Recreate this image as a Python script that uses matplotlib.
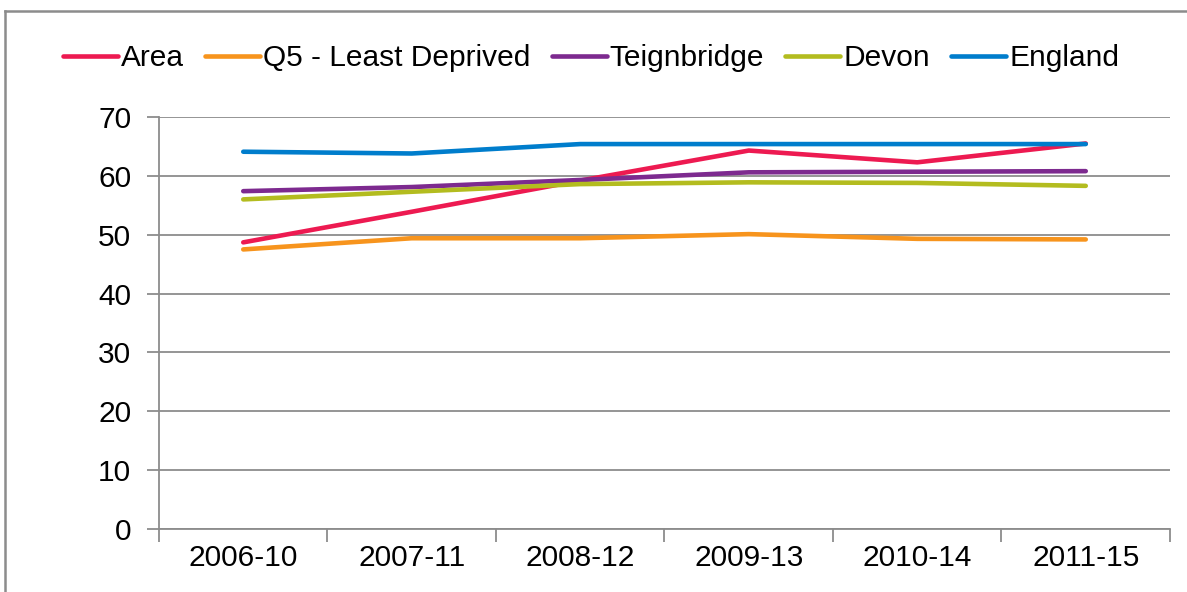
import matplotlib
matplotlib.use("Agg")
import matplotlib.pyplot as plt
from matplotlib.lines import Line2D

plt.rcParams['font.family'] = ['Liberation Sans', 'DejaVu Sans']

categories = ["2006-10", "2007-11", "2008-12", "2009-13", "2010-14", "2011-15"]
area = [48.7, 53.9, 59.2, 64.3, 62.3, 65.5]
q5 = [47.5, 49.4, 49.4, 50.1, 49.3, 49.2]
teignbridge = [57.4, 58.1, 59.3, 60.6, 60.7, 60.8]
devon = [56.0, 57.3, 58.6, 58.9, 58.8, 58.3]
england = [64.1, 63.8, 65.4, 65.4, 65.4, 65.4]

series = [
    ("Area", area, "#ED1A51"),
    ("Q5 - Least Deprived", q5, "#F7941D"),
    ("Teignbridge", teignbridge, "#7D2A8F"),
    ("Devon", devon, "#B3BC1F"),
    ("England", england, "#007DCC"),
]

W, H = 1187, 592
fig = plt.figure(figsize=(W / 100, H / 100), dpi=100)
ax = fig.add_axes([159 / W, 1 - 529 / H, (1170 - 159) / W, (529 - 117) / H])

x = list(range(len(categories)))
handles = []
for name, vals, col in series:
    ln, = ax.plot(x, vals, color=col, lw=3.3, solid_capstyle='round',
                  solid_joinstyle='round', label=name)
    handles.append(ln)

grey = "#8C8C8C"
fs = 21.5
ax.set_ylim(0, 70)
ax.set_xlim(-0.5, len(categories) - 0.5)
ax.set_yticks(range(0, 71, 10))
ax.yaxis.grid(True, color=grey, lw=1.3)
ax.set_axisbelow(True)
for s in ["top", "right"]:
    ax.spines[s].set_visible(False)
for s in ["left", "bottom"]:
    ax.spines[s].set_color(grey)
    ax.spines[s].set_linewidth(1.3)

ax.set_xticks([i - 0.5 for i in range(len(categories) + 1)])
ax.set_xticklabels([])
ax.set_xticks(x, minor=True)
ax.set_xticklabels(categories, minor=True)
ax.tick_params(axis='x', which='major', length=9, width=1.3, color=grey, direction='out')
ax.tick_params(axis='x', which='minor', length=0, labelsize=fs, pad=11)
ax.tick_params(axis='y', length=9, width=1.3, color=grey, labelsize=fs, pad=11)

leg = fig.legend(handles=handles, loc='center', bbox_to_anchor=(591 / W, 1 - 58 / H),
                 ncol=5, frameon=False, fontsize=fs, handlelength=1.85,
                 handletextpad=0.1, columnspacing=0.7, borderaxespad=0)

# outer frame
fig.add_artist(Line2D([5 / W, 1.0], [1 - 11 / H, 1 - 11 / H], color=grey, lw=1.8,
                      transform=fig.transFigure))
fig.add_artist(Line2D([5 / W, 5 / W], [1 - 11 / H, 0], color=grey, lw=1.8,
                      transform=fig.transFigure))

fig.savefig("out.png", dpi=100)
